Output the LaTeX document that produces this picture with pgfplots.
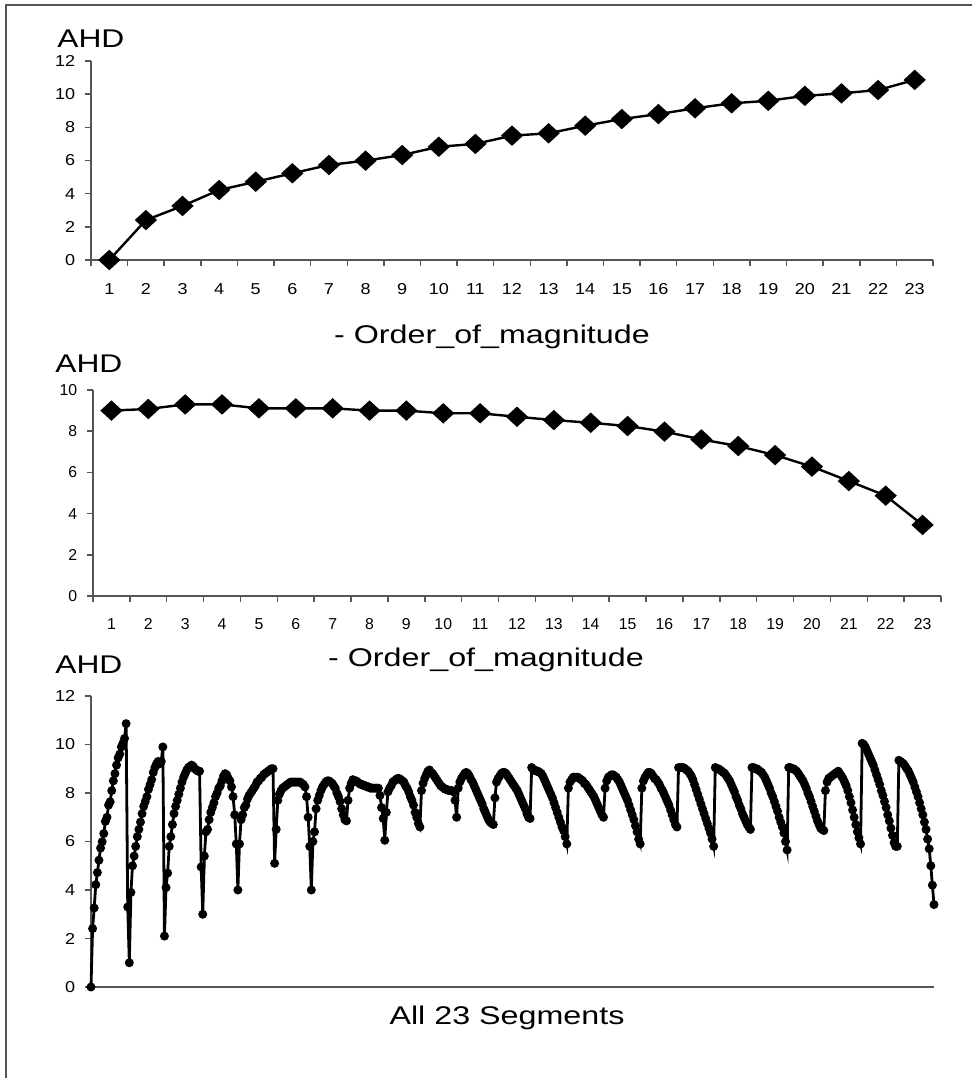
\documentclass[border=0pt]{standalone}
\usepackage{graphicx}
\usepackage{fontspec}
\setmainfont{Liberation Sans}
\usepackage{pgfplots}
\usepackage{pgfplotstable}
\pgfplotsset{compat=1.18}
\definecolor{axgray}{RGB}{85,85,85}
\pgfplotsset{
  ahdaxis/.style={
    scale only axis, clip=false,
    axis x line=bottom, axis y line=left,
    axis line style={-, axgray, line width=0.75pt},
    tick style={axgray, line width=0.75pt},
    tick align=outside, major tick length=3pt, minor tick length=3pt,
    /pgf/number format/assume math mode=true,
    ticklabel style={font=\fontsize{7.9}{9}\selectfont, text=black},
    yticklabel style={xshift=-1.4pt},
  },
}
\pgfplotstableread[row sep=\\, header=false]{
0\\ 2.41\\ 3.26\\ 4.22\\ 4.72\\ 5.23\\ 5.73\\ 5.99\\ 6.33\\ 6.83\\ 7.0\\ 7.5\\ 7.64\\ 8.1\\ 8.5\\ 8.8\\ 9.15\\ 9.45\\ 9.6\\ 9.9\\ 10.05\\ 10.25\\ 10.86\\
3.3\\ 1.0\\ 3.9\\ 5.0\\ 5.4\\ 5.8\\ 6.2\\ 6.5\\ 6.8\\ 7.15\\ 7.45\\ 7.65\\ 7.85\\ 8.15\\ 8.35\\ 8.55\\ 8.85\\ 9.05\\ 9.2\\ 9.3\\ 9.2\\ 9.3\\ 9.9\\
2.1\\ 4.1\\ 4.7\\ 5.8\\ 6.2\\ 6.7\\ 7.15\\ 7.45\\ 7.7\\ 7.95\\ 8.2\\ 8.45\\ 8.65\\ 8.8\\ 8.95\\ 9.05\\ 9.1\\ 9.15\\ 9.1\\ 9.0\\ 8.95\\ 8.9\\ 8.9\\
4.95\\ 3.0\\ 5.4\\ 6.4\\ 6.5\\ 6.9\\ 7.2\\ 7.4\\ 7.6\\ 7.85\\ 8.0\\ 8.2\\ 8.3\\ 8.5\\ 8.7\\ 8.8\\ 8.75\\ 8.6\\ 8.5\\ 8.25\\ 7.85\\ 7.1\\ 5.9\\
4.0\\ 5.9\\ 6.9\\ 7.1\\ 7.4\\ 7.5\\ 7.75\\ 7.9\\ 8.0\\ 8.1\\ 8.2\\ 8.3\\ 8.45\\ 8.5\\ 8.6\\ 8.65\\ 8.75\\ 8.8\\ 8.85\\ 8.9\\ 8.95\\ 9.0\\ 9.0\\
5.1\\ 6.5\\ 7.7\\ 7.95\\ 8.1\\ 8.2\\ 8.25\\ 8.3\\ 8.35\\ 8.4\\ 8.45\\ 8.45\\ 8.45\\ 8.45\\ 8.45\\ 8.45\\ 8.45\\ 8.4\\ 8.35\\ 8.25\\ 7.85\\ 7.0\\ 5.8\\
4.0\\ 6.0\\ 6.4\\ 7.35\\ 7.7\\ 7.9\\ 8.1\\ 8.25\\ 8.35\\ 8.45\\ 8.5\\ 8.5\\ 8.45\\ 8.4\\ 8.3\\ 8.2\\ 8.0\\ 7.85\\ 7.65\\ 7.35\\ 7.1\\ 6.9\\ 6.85\\
7.7\\ 8.2\\ 8.4\\ 8.55\\ 8.5\\ 8.5\\ 8.45\\ 8.4\\ 8.35\\ 8.35\\ 8.3\\ 8.3\\ 8.25\\ 8.25\\ 8.2\\ 8.2\\ 8.2\\ 8.2\\ 8.2\\ 8.2\\ 7.9\\ 7.4\\ 6.95\\
6.05\\ 7.2\\ 8.05\\ 8.2\\ 8.3\\ 8.45\\ 8.5\\ 8.55\\ 8.6\\ 8.6\\ 8.55\\ 8.5\\ 8.45\\ 8.3\\ 8.2\\ 8.05\\ 7.85\\ 7.7\\ 7.5\\ 7.2\\ 7.0\\ 6.75\\ 6.6\\
8.1\\ 8.4\\ 8.6\\ 8.75\\ 8.9\\ 8.95\\ 8.85\\ 8.8\\ 8.7\\ 8.6\\ 8.5\\ 8.4\\ 8.3\\ 8.25\\ 8.2\\ 8.15\\ 8.15\\ 8.1\\ 8.1\\ 8.1\\ 8.05\\ 7.7\\ 7.0\\
8.2\\ 8.45\\ 8.6\\ 8.7\\ 8.8\\ 8.85\\ 8.8\\ 8.7\\ 8.55\\ 8.45\\ 8.3\\ 8.15\\ 8.0\\ 7.85\\ 7.7\\ 7.55\\ 7.35\\ 7.2\\ 7.05\\ 6.9\\ 6.8\\ 6.75\\ 6.7\\
7.8\\ 8.45\\ 8.6\\ 8.7\\ 8.8\\ 8.85\\ 8.85\\ 8.8\\ 8.7\\ 8.6\\ 8.5\\ 8.4\\ 8.3\\ 8.2\\ 8.1\\ 7.95\\ 7.8\\ 7.65\\ 7.5\\ 7.35\\ 7.15\\ 7.0\\ 6.95\\
9.05\\ 8.95\\ 8.95\\ 8.9\\ 8.9\\ 8.85\\ 8.8\\ 8.7\\ 8.55\\ 8.4\\ 8.25\\ 8.1\\ 7.95\\ 7.8\\ 7.6\\ 7.4\\ 7.2\\ 7.0\\ 6.8\\ 6.6\\ 6.45\\ 6.2\\ 5.9\\
8.2\\ 8.45\\ 8.55\\ 8.65\\ 8.65\\ 8.65\\ 8.65\\ 8.6\\ 8.55\\ 8.5\\ 8.4\\ 8.35\\ 8.25\\ 8.15\\ 8.05\\ 7.95\\ 7.85\\ 7.7\\ 7.55\\ 7.4\\ 7.25\\ 7.1\\ 7.0\\
8.2\\ 8.5\\ 8.65\\ 8.7\\ 8.75\\ 8.75\\ 8.7\\ 8.65\\ 8.55\\ 8.45\\ 8.3\\ 8.15\\ 8.0\\ 7.85\\ 7.7\\ 7.5\\ 7.3\\ 7.1\\ 6.9\\ 6.65\\ 6.4\\ 6.1\\ 5.9\\
8.2\\ 8.5\\ 8.65\\ 8.75\\ 8.85\\ 8.85\\ 8.8\\ 8.7\\ 8.6\\ 8.55\\ 8.45\\ 8.35\\ 8.2\\ 8.1\\ 7.95\\ 7.8\\ 7.65\\ 7.5\\ 7.3\\ 7.1\\ 6.9\\ 6.7\\ 6.6\\
9.05\\ 9.05\\ 9.05\\ 9.05\\ 9.0\\ 8.95\\ 8.9\\ 8.8\\ 8.7\\ 8.55\\ 8.35\\ 8.15\\ 7.95\\ 7.75\\ 7.55\\ 7.35\\ 7.15\\ 6.95\\ 6.75\\ 6.55\\ 6.35\\ 6.1\\ 5.8\\
9.05\\ 9.0\\ 9.0\\ 8.95\\ 8.9\\ 8.85\\ 8.8\\ 8.7\\ 8.6\\ 8.5\\ 8.35\\ 8.2\\ 8.05\\ 7.85\\ 7.7\\ 7.5\\ 7.35\\ 7.15\\ 7.0\\ 6.85\\ 6.7\\ 6.6\\ 6.5\\
9.05\\ 9.05\\ 9.0\\ 9.0\\ 8.95\\ 8.9\\ 8.85\\ 8.75\\ 8.65\\ 8.5\\ 8.35\\ 8.2\\ 8.0\\ 7.85\\ 7.65\\ 7.45\\ 7.25\\ 7.0\\ 6.8\\ 6.6\\ 6.35\\ 6.0\\ 5.65\\
9.05\\ 9.05\\ 9.0\\ 9.0\\ 8.95\\ 8.9\\ 8.8\\ 8.7\\ 8.6\\ 8.5\\ 8.35\\ 8.2\\ 8.0\\ 7.85\\ 7.65\\ 7.45\\ 7.25\\ 7.05\\ 6.85\\ 6.7\\ 6.55\\ 6.5\\ 6.45\\
8.1\\ 8.45\\ 8.6\\ 8.65\\ 8.7\\ 8.75\\ 8.8\\ 8.85\\ 8.9\\ 8.8\\ 8.7\\ 8.6\\ 8.45\\ 8.3\\ 8.1\\ 7.85\\ 7.6\\ 7.3\\ 7.0\\ 6.7\\ 6.4\\ 6.15\\ 5.9\\
10.05\\ 10.0\\ 9.9\\ 9.75\\ 9.6\\ 9.45\\ 9.3\\ 9.15\\ 8.95\\ 8.75\\ 8.55\\ 8.35\\ 8.1\\ 7.9\\ 7.65\\ 7.4\\ 7.1\\ 6.85\\ 6.55\\ 6.25\\ 5.95\\ 5.8\\ 5.8\\
9.35\\ 9.3\\ 9.25\\ 9.2\\ 9.1\\ 9.0\\ 8.9\\ 8.75\\ 8.6\\ 8.45\\ 8.25\\ 8.05\\ 7.85\\ 7.6\\ 7.35\\ 7.1\\ 6.8\\ 6.5\\ 6.1\\ 5.7\\ 5.0\\ 4.2\\ 3.4\\
}\allsegments

\begin{document}
\begin{tikzpicture}
\useasboundingbox (0pt,0pt) rectangle (485.5pt,-539pt);
\draw[axgray, line width=1pt] (3pt,-545pt) -- (3pt,-2.5pt) -- (490pt,-2.5pt);

% ---------- top chart ----------
\begin{axis}[ahdaxis, at={(45.5pt,-130pt)}, anchor=south west,
  width=421pt, height=99.5pt,
  xmin=0.5, xmax=23.5, ymin=0, ymax=12,
  ytick={0,2,...,12},
  xtick={1,...,23}, major x tick style={draw=none},
  minor xtick={0.5,1.5,...,23.5},
  xticklabel={\scalebox{1.14}[1]{\strut\pgfmathprintnumber{\tick}}},
  yticklabel={\scalebox{1.14}[1]{\pgfmathprintnumber{\tick}}},
  xticklabel style={yshift=-4.6pt},
]
\addplot[black, line width=1.2pt, mark=diamond*, mark size=4.3pt,
  mark options={solid, xscale=1.45}] coordinates {
(1,0) (2,2.41) (3,3.26) (4,4.22) (5,4.72) (6,5.23) (7,5.73) (8,5.99)
(9,6.33) (10,6.83) (11,7.0) (12,7.5) (13,7.64) (14,8.1) (15,8.5) (16,8.8)
(17,9.15) (18,9.45) (19,9.6) (20,9.9) (21,10.05) (22,10.25) (23,10.86)};
\end{axis}

% ---------- middle chart ----------
\begin{axis}[ahdaxis, at={(46.5pt,-298pt)}, anchor=south west,
  width=424pt, height=103pt,
  xmin=0.5, xmax=23.5, ymin=0, ymax=10,
  ytick={0,2,...,10},
  xtick={1,...,23}, major x tick style={draw=none},
  minor xtick={0.5,1.5,...,23.5},
  xticklabel={\scalebox{1.0}[1]{\strut\pgfmathprintnumber{\tick}}},
  xticklabel style={yshift=-3.8pt},
]
\addplot[black, line width=1.2pt, mark=diamond*, mark size=4.3pt,
  mark options={solid, xscale=1.45}] coordinates {
(1,9.0) (2,9.08) (3,9.3) (4,9.3) (5,9.11) (6,9.11) (7,9.11) (8,9.0)
(9,9.0) (10,8.87) (11,8.87) (12,8.7) (13,8.54) (14,8.41) (15,8.25) (16,7.98)
(17,7.6) (18,7.28) (19,6.84) (20,6.28) (21,5.58) (22,4.87) (23,3.45)};
\end{axis}

% ---------- bottom chart ----------
\begin{axis}[ahdaxis, at={(45.5pt,-493.5pt)}, anchor=south west,
  width=421.5pt, height=145.5pt,
  xmin=0, xmax=528, ymin=0, ymax=12,
  ytick={0,2,...,12}, xtick=\empty,
  yticklabel={\scalebox{1.14}[1]{\pgfmathprintnumber{\tick}}},
]
\addplot[black, line width=1.4pt, mark=*, mark size=1.5pt,
  mark options={solid}] table[x expr=\coordindex, y index=0] {\allsegments};
\end{axis}

% ---------- texts ----------
\node[anchor=base west, inner sep=0, font=\fontsize{12.8}{15}\selectfont]
  at (28.5pt,-23.5pt) {\scalebox{1.24}[1]{AHD}};
\node[anchor=base west, inner sep=0, font=\fontsize{12.8}{15}\selectfont]
  at (27.5pt,-186pt) {\scalebox{1.24}[1]{AHD}};
\node[anchor=base west, inner sep=0, font=\fontsize{12.8}{15}\selectfont]
  at (27.5pt,-336.5pt) {\scalebox{1.24}[1]{AHD}};
\node[anchor=base, inner sep=0, font=\fontsize{12.8}{15}\selectfont]
  at (246pt,-171.5pt) {\scalebox{1.26}[1]{- Order\_of\_magnitude}};
\node[anchor=base, inner sep=0, font=\fontsize{12.8}{15}\selectfont]
  at (243pt,-333pt) {\scalebox{1.26}[1]{- Order\_of\_magnitude}};
\node[anchor=base, inner sep=0, font=\fontsize{12.8}{15}\selectfont]
  at (253.5pt,-512pt) {\scalebox{1.26}[1]{All 23 Segments}};
\end{tikzpicture}
\end{document}
